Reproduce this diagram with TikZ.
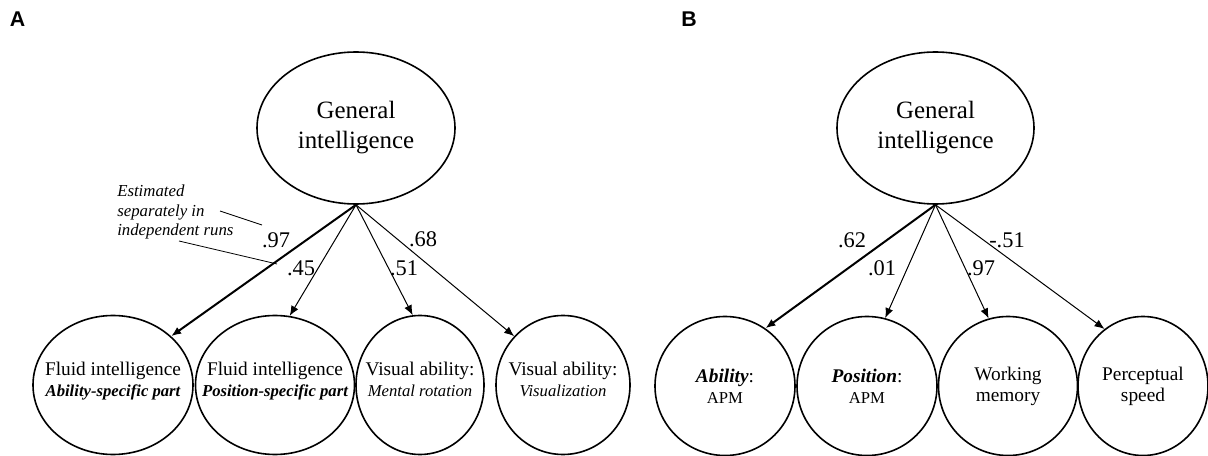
\documentclass[tikz,border=0pt]{standalone}
\usepackage{fontspec}
\setmainfont{Liberation Serif}
\newfontfamily\panelfont{Liberation Sans}
\usetikzlibrary{shapes.geometric,arrows.meta}

\tikzset{
  latent/.style={draw, ellipse, line width=1.2pt, inner xsep=-40pt, inner ysep=0pt, align=center, font=\fontsize{14.5}{15.75}\selectfont},
  loading/.style={inner sep=0pt, font=\fontsize{16.8}{18}\selectfont},
  loadpath/.style={-{Latex[length=7.5pt,width=6pt]}, line width=0.75pt},
  mainpath/.style={loadpath, line width=1.5pt},
  note/.style={line width=0.6pt},
  panel/.style={inner sep=0pt, font=\panelfont\fontsize{16}{18}\selectfont\bfseries}
}
\newcommand{\subtxt}{\fontsize{12.5}{15}\selectfont}
\newcommand{\lift}{\rule[-8pt]{0pt}{8pt}}

\begin{document}
\begin{tikzpicture}[x=0.75pt,y=-0.75pt]
\useasboundingbox (0,0) rectangle (1208,456);

% panel A
\coordinate (gA) at (356,128);
\coordinate (a1) at (113,385);
\coordinate (a2) at (275,385);
\coordinate (a3) at (420,385);
\coordinate (a4) at (563,385);
\coordinate (noteA) at (220,211);
\coordinate (noteB) at (262,225);
\coordinate (noteC) at (179,241);
\coordinate (noteD) at (277,264);

\node [panel] (labA) at (17.5,19) {A};
\node [latent, minimum width=148.5pt, minimum height=114pt, font=\fontsize{18.7}{22.5}\selectfont] (GenA) at (gA) {General\\intelligence};
\node [latent, minimum width=120pt, minimum height=104.25pt] (FluidAb) at (a1) {Fluid intelligence\\{\subtxt\bfseries\itshape Ability-specific part}\lift};
\node [latent, minimum width=119.25pt, minimum height=104.25pt] (FluidPos) at (a2) {Fluid intelligence\\{\subtxt\bfseries\itshape Position-specific part}\lift};
\node [latent, minimum width=96pt, minimum height=104.25pt] (VisRot) at (a3) {Visual ability:\\{\subtxt\itshape Mental rotation}\lift};
\node [latent, minimum width=100.5pt, minimum height=104.25pt] (VisViz) at (a4) {Visual ability:\\{\subtxt\itshape Visualization}\lift};

\draw [mainpath] (GenA.south) -- (FluidAb.40);
\draw [loadpath] (GenA.south) -- (FluidPos.78);
\draw [loadpath] (GenA.south) -- (VisRot.96);
\draw [loadpath] (GenA.south) -- (VisViz.135);

\node [loading] (ldA1) at (276,240) {.97};
\node [loading] (ldA2) at (301,268) {.45};
\node [loading] (ldA3) at (404,268) {.51};
\node [loading] (ldA4) at (423,239) {.68};

\node [align=left, anchor=west, inner sep=0pt, font=\fontsize{12.6}{14.6}\selectfont\itshape] (runs) at (117,212) {Estimated\\separately in\\independent runs};
\draw [note] (noteA) -- (noteB);
\draw [note] (noteC) -- (noteD);

% panel B
\coordinate (gB) at (935.5,128);
\coordinate (b1) at (725,386);
\coordinate (b2) at (867,386);
\coordinate (b3) at (1008,386);
\coordinate (b4) at (1143,386);

\node [panel] (labB) at (689,19) {B};
\node [latent, minimum width=147.75pt, minimum height=114pt, font=\fontsize{18.7}{22.5}\selectfont] (GenB) at (gB) {General\\intelligence};
\node [latent, minimum width=105pt, minimum height=104.25pt] (AbilB) at (b1) {\textbf{\textit{Ability}}:\\{\subtxt APM}};
\node [latent, minimum width=105pt, minimum height=104.25pt] (PosB) at (b2) {\textbf{\textit{Position}}:\\{\subtxt APM}};
\node [latent, minimum width=104.25pt, minimum height=104.25pt] (WorkB) at (b3) {Working\\memory};
\node [latent, minimum width=97.5pt, minimum height=104.25pt] (SpeedB) at (b4) {Perceptual\\speed};

\draw [mainpath] (GenB.south) -- (AbilB.55);
\draw [loadpath] (GenB.south) -- (PosB.75);
\draw [loadpath] (GenB.south) -- (WorkB.106);
\draw [loadpath] (GenB.south) -- (SpeedB.124);

\node [loading] (ldB1) at (852,240) {.62};
\node [loading] (ldB2) at (882,268) {.01};
\node [loading] (ldB3) at (981,268) {.97};
\node [loading] (ldB4) at (1007,240) {-.51};
\end{tikzpicture}
\end{document}
